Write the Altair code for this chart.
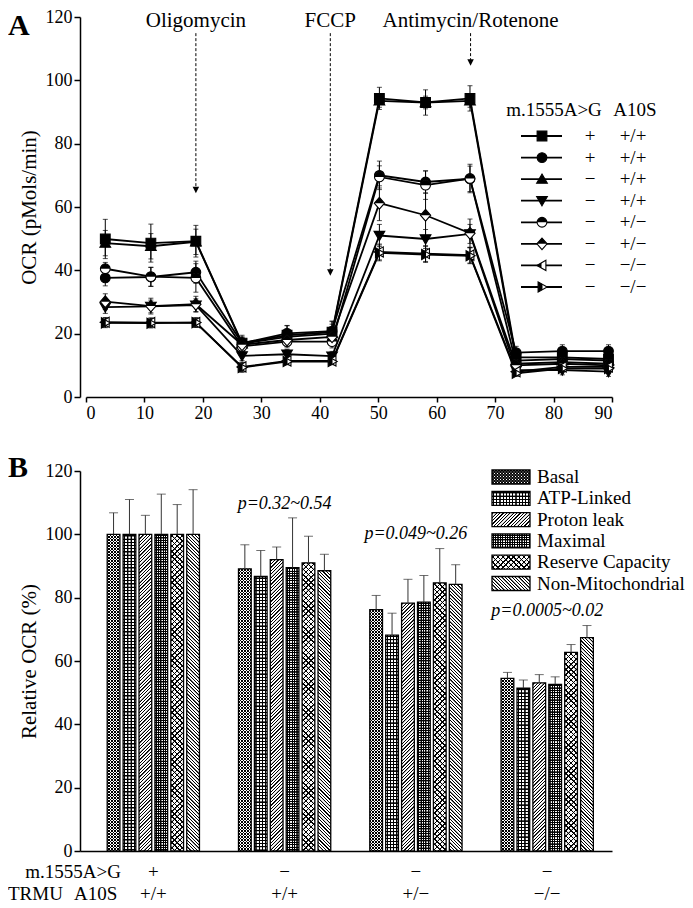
import altair as alt
import pandas as pd

FONT = "Liberation Serif"
W = 532      # plot width (both panels)
HA = 380     # panel A plot height
HB = 380     # panel B plot height

# ---------------- Panel A data ----------------
times = [3.3, 11.1, 18.8, 26.7, 34.4, 42.1, 50.2, 58.1, 65.7, 73.6, 81.5, 89.4]
series = ["S1", "S2", "S3", "S4", "S5", "S6", "S7", "S8"]
mito_a = ["+", "+", "−", "−", "−", "−", "−", "−"]
a10s_a = ["+/+", "+/+", "+/+", "+/+", "+/−", "+/−", "−/−", "−/−"]

ocr_s1 = [49.9, 48.6, 49.2, 17.0, 19.5, 20.5, 94.3, 93.0, 94.3, 12.5, 12.5, 12.0]
ocr_s2 = [37.6, 37.9, 39.4, 17.0, 20.1, 20.8, 70.0, 67.9, 68.9, 14.0, 14.5, 14.5]
ocr_s3 = [48.6, 47.6, 49.0, 16.8, 19.0, 20.0, 93.5, 93.0, 93.5, 11.5, 12.0, 11.5]
ocr_s4 = [28.4, 28.6, 29.0, 13.0, 13.5, 12.9, 51.0, 49.9, 51.5, 8.5, 8.5, 8.0]
ocr_s5 = [40.5, 38.0, 37.6, 16.0, 17.5, 17.5, 69.5, 66.9, 69.0, 10.5, 11.0, 10.5]
ocr_s6 = [30.1, 28.7, 29.3, 16.5, 18.0, 19.0, 61.2, 57.4, 51.7, 10.0, 10.5, 10.0]
ocr_s7 = [23.6, 23.5, 23.5, 9.5, 11.4, 11.4, 45.8, 45.3, 44.8, 8.0, 9.5, 9.5]
ocr_s8 = [23.4, 23.3, 23.5, 9.3, 11.2, 11.2, 45.5, 45.0, 44.6, 7.5, 9.0, 9.0]

err_s1 = [6.2, 6.0, 5.0, 2.5, 3.0, 3.5, 3.5, 4.0, 4.0, 2.5, 3.0, 3.0]
err_s2 = [2.5, 3.0, 3.5, 2.0, 2.5, 3.0, 4.5, 3.5, 4.0, 2.0, 2.0, 2.0]
err_s3 = [4.0, 4.0, 4.0, 2.0, 2.5, 3.0, 2.0, 2.0, 2.0, 1.5, 1.5, 1.5]
err_s4 = [2.0, 2.0, 2.0, 1.5, 1.5, 1.5, 3.5, 3.0, 3.0, 1.5, 1.5, 1.5]
err_s5 = [2.0, 3.0, 4.5, 2.5, 2.0, 2.0, 3.5, 4.5, 4.5, 1.5, 1.5, 1.5]
err_s6 = [2.5, 2.5, 2.5, 2.0, 2.0, 2.0, 5.5, 7.0, 4.5, 1.5, 1.5, 1.5]
err_s7 = [1.5, 1.5, 1.5, 1.5, 1.0, 1.0, 2.5, 2.5, 2.5, 1.0, 1.0, 1.0]
err_s8 = [1.5, 1.5, 1.5, 1.5, 1.0, 1.0, 2.5, 2.5, 2.5, 1.0, 1.0, 1.0]

ocr_all = [ocr_s1, ocr_s2, ocr_s3, ocr_s4, ocr_s5, ocr_s6, ocr_s7, ocr_s8]
err_all = [err_s1, err_s2, err_s3, err_s4, err_s5, err_s6, err_s7, err_s8]

arrow_labels = ["Oligomycin", "FCCP", "Antimycin/Rotenone"]
arrow_x = [18.8, 41.8, 65.8]
arrow_top = [114.9, 114.9, 114.9]
arrow_tip = [64.0, 37.9, 104.2]

# ---------------- Panel B data ----------------
groups = ["G1", "G2", "G3", "G4"]
mito_b = ["+", "−", "−", "−"]
trmu_b = ["+/+", "+/+", "+/−", "−/−"]
metrics = ["Basal", "ATP-Linked", "Proton leak", "Maximal",
           "Reserve Capacity", "Non-Mitochondrial"]
basal = [100, 89.1, 76.2, 54.5]
atp = [100, 86.7, 68.2, 51.4]
proton = [100, 92.0, 78.3, 53.1]
maximal = [100, 89.5, 78.6, 52.6]
reserve = [100, 91.0, 84.7, 62.7]
nonmito = [100, 88.5, 84.2, 67.4]
basal_err = [6.8, 7.6, 4.5, 1.9]
atp_err = [11.0, 8.2, 6.9, 2.6]
proton_err = [6.0, 4.0, 7.5, 2.6]
maximal_err = [12.7, 15.7, 8.4, 2.4]
reserve_err = [9.4, 8.4, 10.8, 2.5]
nonmito_err = [14.1, 5.2, 6.2, 3.8]
p_labels = ["", "p=0.32~0.54", "p=0.049~0.26", "p=0.0005~0.02"]

vals_b = [basal, atp, proton, maximal, reserve, nonmito]
errs_b = [basal_err, atp_err, proton_err, maximal_err, reserve_err, nonmito_err]

# ---------------- styles ----------------
FULL = {
    "S1": "M-1,-1L1,-1L1,1L-1,1Z",
    "S2": "M-1,0A1,1,0,1,0,1,0A1,1,0,1,0,-1,0Z",
    "S3": "M0,-1.05L1.1,0.85L-1.1,0.85Z",
    "S4": "M0,1.05L1.1,-0.85L-1.1,-0.85Z",
    "S5": "M-1,0A1,1,0,1,0,1,0A1,1,0,1,0,-1,0Z",
    "S6": "M0,-1.2L1.05,0L0,1.2L-1.05,0Z",
    "S7": "M-1.05,0L0.8,-1.05L0.8,1.05Z",
    "S8": "M1.05,0L-0.8,-1.05L-0.8,1.05Z",
}
HALF = {
    "S5": "M-1,0A1,1,0,0,1,1,0Z",
    "S6": "M-1.05,0L0,-1.2L1.05,0Z",
    "S7": "M-1.05,0L-0.1,-0.54L-0.1,0.54Z",
    "S8": "M-0.8,-1.05L0.1,-0.54L0.1,0.54L-0.8,1.05Z",
}
FILLED = {"S1", "S2", "S3", "S4"}
MS = 95

PATTERNS = {
    "Basal": [("d1", 3.0, 0.9), ("d2", 3.0, 0.9)],
    "ATP-Linked": [("v", 3.2, 0.9), ("h", 3.2, 0.9)],
    "Proton leak": [("d1", 3.4, 1.0)],
    "Maximal": [("v", 2.4, 0.9), ("h", 2.4, 0.9)],
    "Reserve Capacity": [("d1", 5.2, 1.2), ("d2", 5.2, 1.2)],
    "Non-Mitochondrial": [("d2", 3.4, 1.0)],
}
CLEAR = "rgba(0,0,0,0)"


def make_grad(kind, w, h, period, lw, bg, fg="black"):
    if kind == "v":
        L = w
        x1, y1, x2, y2 = 0, 0, 1, 0
    elif kind == "h":
        L = h
        x1, y1, x2, y2 = 0, 0, 0, 1
    else:
        L = w + h
        s = (w + h) / (w * w + h * h)
        dx, dy = w * s, h * s
        if kind == "d1":
            x1, y1, x2, y2 = 0, 0, dx, dy
        else:
            x1, y1, x2, y2 = 1, 0, 1 - dx, dy
    soft = 0.25
    stops = [{"offset": 0, "color": bg}]
    c = period / 2
    last = 0.0
    while c + lw / 2 + soft < L:
        a0 = round((c - lw / 2 - soft) / L, 7)
        a1 = round((c - lw / 2) / L, 7)
        b0 = round((c + lw / 2) / L, 7)
        b1 = round((c + lw / 2 + soft) / L, 7)
        if a0 > last:
            stops += [{"offset": a0, "color": bg}, {"offset": a1, "color": fg},
                      {"offset": b0, "color": fg}, {"offset": b1, "color": bg}]
            last = b1
        c += period
    stops.append({"offset": 1, "color": bg})
    return {"gradient": "linear", "x1": round(x1, 7), "y1": round(y1, 7),
            "x2": round(x2, 7), "y2": round(y2, 7), "stops": stops}


one = pd.DataFrame({"k": [0]})


def vtext(txt, x, y, size=19, align="center", baseline="middle", **kw):
    return alt.Chart(one).mark_text(
        font=FONT, fontSize=size, align=align, baseline=baseline, color="black", **kw
    ).encode(x=alt.value(x), y=alt.value(y), text=alt.value(txt))


# ================= Panel A =================
rows = []
for si, s in enumerate(series):
    for ti, t in enumerate(times):
        v = ocr_all[si][ti]
        e = err_all[si][ti]
        rows.append({"series": s, "time": t, "ocr": v, "lo": v - e, "hi": v + e})
dfA = pd.DataFrame(rows)

scXA = alt.Scale(domain=[0, 90], range=[6, W], nice=False, zero=False)
scYA = alt.Scale(domain=[0, 120], nice=False)
axXA = alt.Axis(values=list(range(0, 91, 10)), tickSize=5, title=None, labelPadding=2)
axYA = alt.Axis(values=list(range(0, 121, 20)), tickSize=6, title="OCR (pMols/min)",
                titlePadding=6, labelPadding=2)


def XA(f="time"):
    return alt.X(f"{f}:Q", scale=scXA, axis=axXA)


def YA(f):
    return alt.Y(f"{f}:Q", scale=scYA, axis=axYA)


baseA = alt.Chart(dfA)
LA = []
LA.append(baseA.mark_rule(color="black", strokeWidth=1).encode(x=XA(), y=YA("lo"), y2="hi:Q"))
LA.append(baseA.mark_tick(orient="horizontal", size=5, thickness=1, color="black")
          .encode(x=XA(), y=YA("lo")))
LA.append(baseA.mark_tick(orient="horizontal", size=5, thickness=1, color="black")
          .encode(x=XA(), y=YA("hi")))
LA.append(baseA.mark_line(color="black", strokeWidth=1.8)
          .encode(x=XA(), y=YA("ocr"), detail="series:N", order="time:Q"))
for s in series:
    sub = baseA.transform_filter(alt.datum.series == s)
    LA.append(sub.mark_point(shape=FULL[s], size=MS, filled=True,
                             fill="black" if s in FILLED else "white",
                             stroke="black", strokeWidth=1.1, opacity=1)
              .encode(x=XA(), y=YA("ocr")))
    if s in HALF:
        LA.append(sub.mark_point(shape=HALF[s], size=MS, filled=True, fill="black",
                                 strokeWidth=0, opacity=1)
                  .encode(x=XA(), y=YA("ocr")))

dfArr = pd.DataFrame({"x": arrow_x, "top": arrow_top, "tip": arrow_tip,
                      "label": arrow_labels})
dfArr["head"] = dfArr["tip"] + 1.4
dfArr["ty"] = 120 - 9.5 * 120 / HA
baseArr = alt.Chart(dfArr)
LA.append(baseArr.mark_rule(color="black", strokeWidth=1, strokeDash=[3, 2])
          .encode(x=XA("x"), y=YA("top"), y2="head:Q"))
LA.append(baseArr.mark_point(shape="M-1,-1L1,-1L0,1Z", size=42, filled=True,
                             fill="black", opacity=1, strokeWidth=0)
          .encode(x=XA("x"), y=YA("head")))
LA.append(baseArr.mark_text(font=FONT, fontSize=21, baseline="alphabetic", color="black")
          .encode(x=XA("x"), y=YA("ty"), text="label:N"))

LA.append(vtext("m.1555A>G", 474, 93, size=19))
LA.append(vtext("A10S", 555, 93, size=19))
for i, s in enumerate(series):
    ry = 119 + 21.57 * i
    LA.append(alt.Chart(one).mark_rule(color="black", strokeWidth=1.8)
              .encode(x=alt.value(441), x2=alt.value(482), y=alt.value(ry)))
    LA.append(alt.Chart(one).mark_point(shape=FULL[s], size=MS, filled=True,
                                        fill="black" if s in FILLED else "white",
                                        stroke="black", strokeWidth=1.1, opacity=1)
              .encode(x=alt.value(462), y=alt.value(ry)))
    if s in HALF:
        LA.append(alt.Chart(one).mark_point(shape=HALF[s], size=MS, filled=True,
                                            fill="black", strokeWidth=0, opacity=1)
                  .encode(x=alt.value(462), y=alt.value(ry)))
    LA.append(vtext(mito_a[i], 510, ry, size=19))
    LA.append(vtext(a10s_a[i], 553, ry, size=19))
LA.append(vtext("A", -72, -6, size=30, align="left", baseline="top", fontWeight="bold"))

panelA = alt.layer(*LA).properties(width=W, height=HA)

# ================= Panel B =================
rowsB = []
for mi, m in enumerate(metrics):
    for gi, g in enumerate(groups):
        v = vals_b[mi][gi]
        rowsB.append({"metric": m, "grp": g, "value": v, "top": v + errs_b[mi][gi]})
dfB = pd.DataFrame(rowsB)

scXB = alt.Scale(domain=groups, paddingInner=0.273, paddingOuter=0.1625, align=0.6)
scXO = alt.Scale(domain=metrics, paddingInner=0.2, paddingOuter=0.1)
scYB = alt.Scale(domain=[0, 120], nice=False)
axXB = alt.Axis(labels=False, ticks=False, title=None, domain=True)
axYB = alt.Axis(values=list(range(0, 121, 20)), tickSize=6, title="Relative OCR (%)",
                titlePadding=6, labelPadding=2)
XB = alt.X("grp:N", scale=scXB, axis=axXB)
XO = alt.XOffset("metric:N", scale=scXO)


def YB(f):
    return alt.Y(f"{f}:Q", scale=scYB, axis=axYB)


step = W / (4 - 0.273 + 2 * 0.1625)
bw = step * (1 - 0.273)
BAR_W = bw / (6 - 0.2 + 0.2) * 0.8

baseB = alt.Chart(dfB)
LB = []
for mi, m in enumerate(metrics):
    pats = PATTERNS[m]
    for gi, g in enumerate(groups):
        h = vals_b[mi][gi] * HB / 120
        sub = baseB.transform_filter((alt.datum.grp == g) & (alt.datum.metric == m))
        for pi_, (kind, per, lw) in enumerate(pats):
            grad = make_grad(kind, BAR_W, h, per, lw, "white" if pi_ == 0 else CLEAR)
            kw = {}
            if pi_ == len(pats) - 1:
                kw = {"stroke": "black", "strokeWidth": 1.3}
            LB.append(sub.mark_bar(fill=grad, **kw).encode(x=XB, xOffset=XO, y=YB("value")))

LB.append(baseB.mark_rule(color="#333333", strokeWidth=1)
          .encode(x=XB, xOffset=XO, y=YB("value"), y2="top:Q"))
LB.append(baseB.mark_tick(orient="horizontal", size=9, thickness=1, color="#333333")
          .encode(x=XB, xOffset=XO, y=YB("top")))

tops = dfB.groupby("grp")["top"].max()
dfP = pd.DataFrame({"grp": groups, "label": p_labels,
                    "py": [tops[g] + 4.5 for g in groups],
                    "mito": mito_b, "trmu": trmu_b})
baseP = alt.Chart(dfP)
LB.append(baseP.mark_text(font=FONT, fontSize=18, fontStyle="italic", color="black",
                          baseline="middle")
          .encode(x=XB, y=YB("py"), text="label:N"))
LB.append(baseP.mark_text(font=FONT, fontSize=19, color="black", baseline="middle")
          .encode(x=XB, y=alt.value(401), text="mito:N"))
LB.append(baseP.mark_text(font=FONT, fontSize=19, color="black", baseline="middle")
          .encode(x=XB, y=alt.value(423), text="trmu:N"))
LB.append(vtext("m.1555A>G", 41, 401, size=19, align="right"))
LB.append(vtext("TRMU", -72, 423, size=19, align="left"))
LB.append(vtext("A10S", -6, 423, size=19, align="left"))
LB.append(vtext("B", -72, -18, size=30, align="left", baseline="top", fontWeight="bold"))

for i, m in enumerate(metrics):
    cy = 6 + 21.3 * i
    pats = PATTERNS[m]
    for pi_, (kind, per, lw) in enumerate(pats):
        grad = make_grad(kind, 38, 14, per, lw, "white" if pi_ == 0 else CLEAR)
        kw = {}
        if pi_ == len(pats) - 1:
            kw = {"stroke": "black", "strokeWidth": 1.3}
        LB.append(alt.Chart(one).mark_rect(fill=grad, **kw)
                  .encode(x=alt.value(412), x2=alt.value(450),
                          y=alt.value(cy - 7), y2=alt.value(cy + 7)))
    LB.append(vtext(m, 457, cy, size=19, align="left"))

panelB = alt.layer(*LB).properties(width=W, height=HB)

chart = (
    alt.vconcat(panelA, panelB, spacing=31)
    .properties(padding={"left": 0, "top": 0, "right": 0, "bottom": 0}, background="white")
    .configure_view(stroke=None)
    .configure_axis(labelFont=FONT, titleFont=FONT, labelFontSize=18, titleFontSize=21,
                    titleFontWeight="normal", labelColor="black", titleColor="black",
                    domainColor="black", tickColor="black", domainWidth=1.5,
                    tickWidth=1.5, grid=False)
)

chart.save("out.html", embed_options={"renderer": "svg", "actions": False})
